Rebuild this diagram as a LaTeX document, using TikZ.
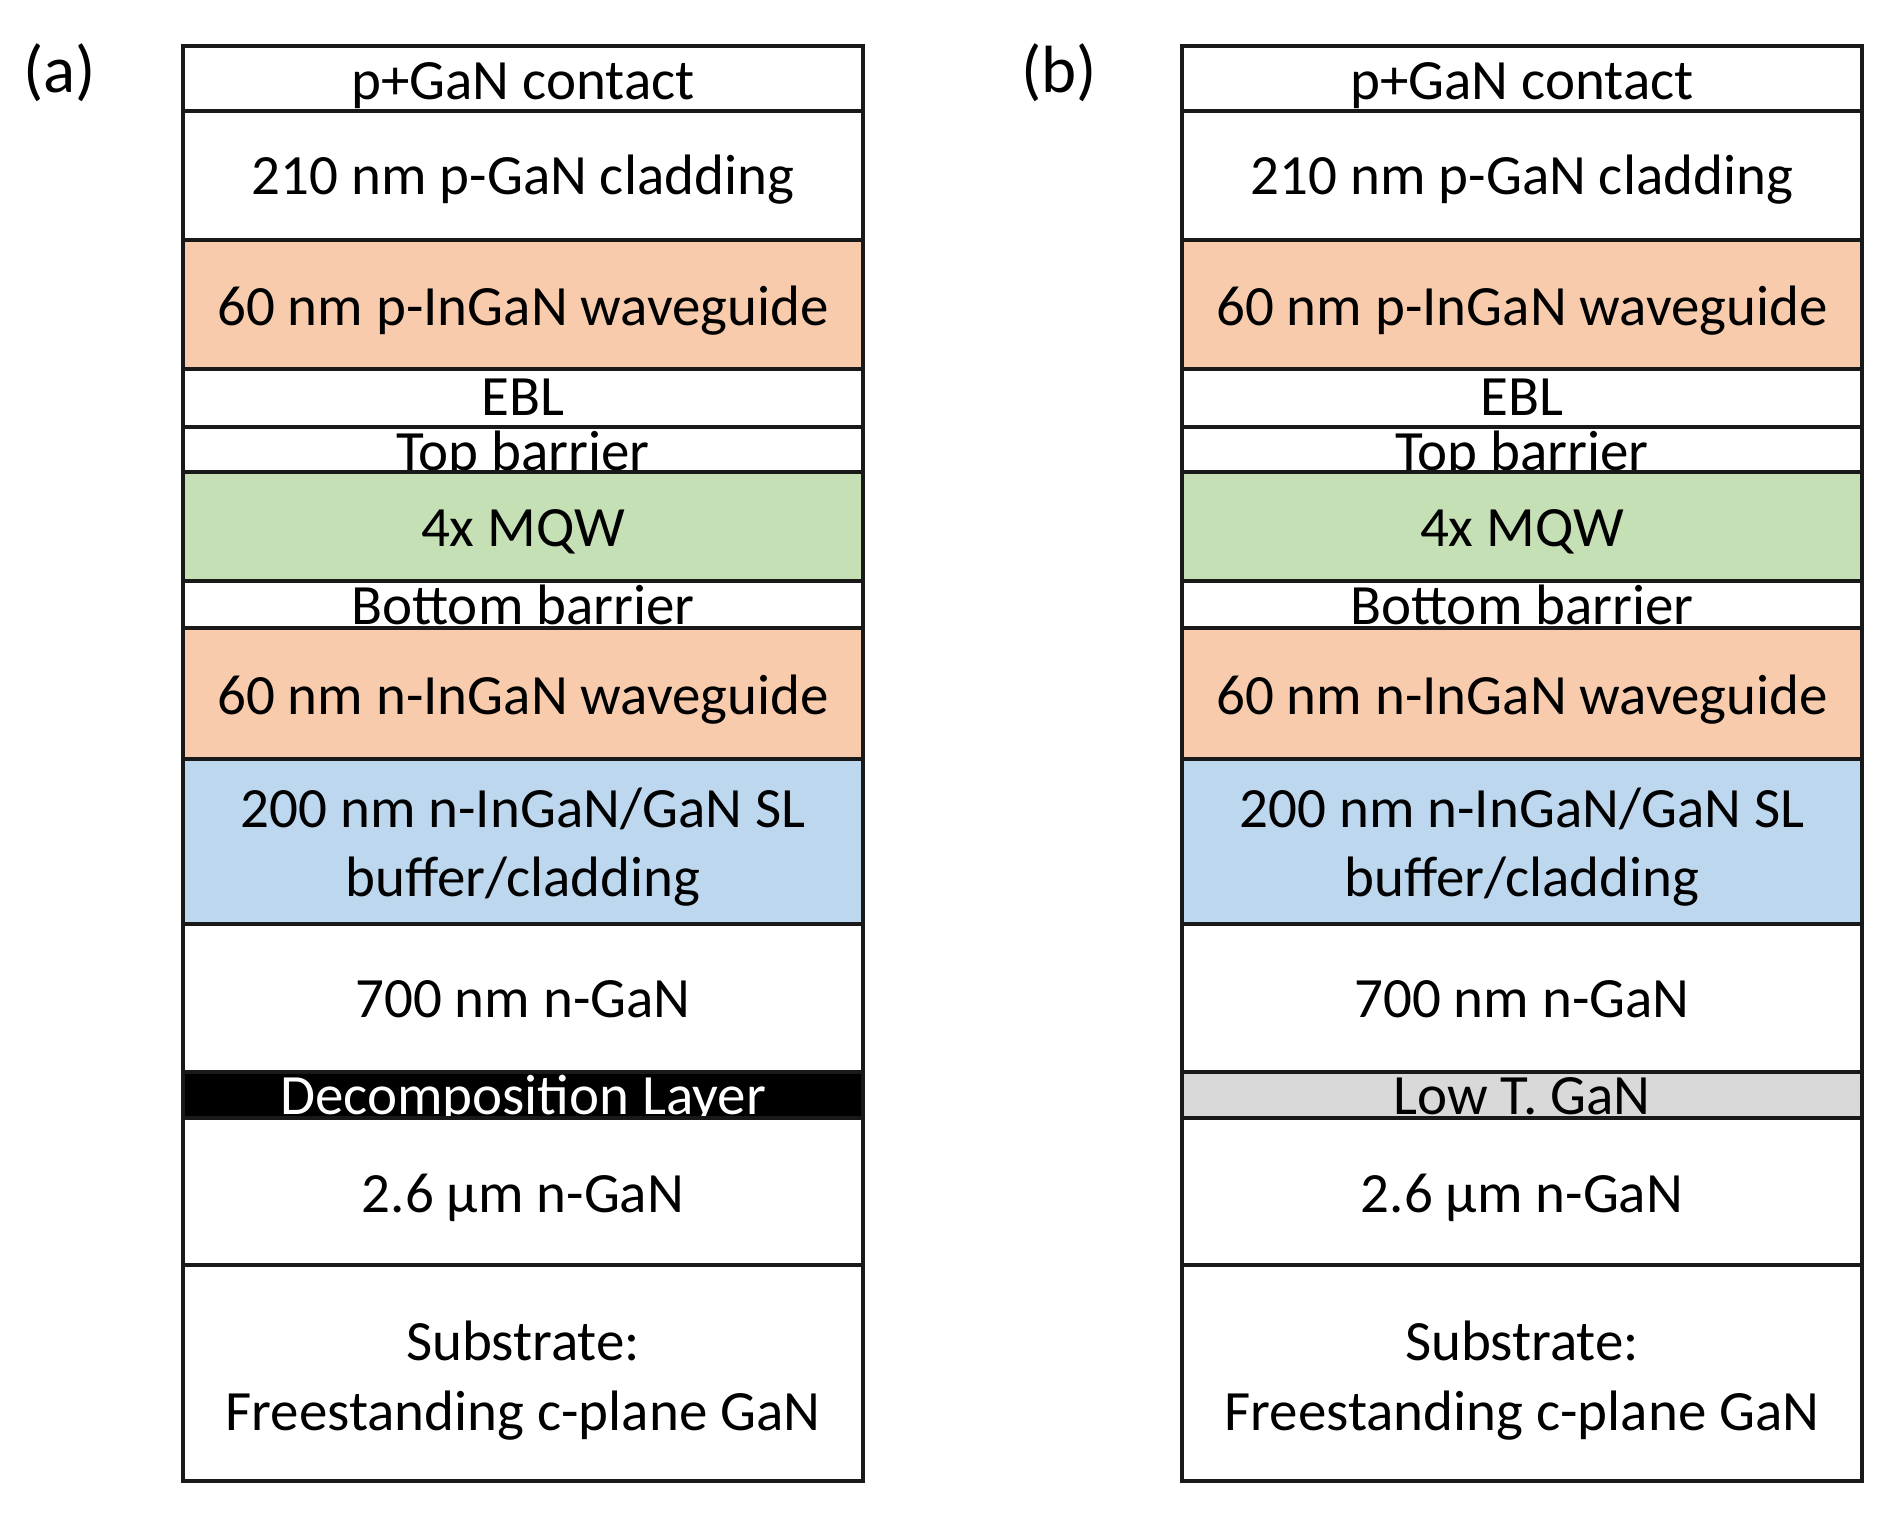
\documentclass[tikz,border=0pt]{standalone}
\usepackage{fontspec}
\setmainfont{Carlito}
\definecolor{wgorange}{HTML}{F8CBAD}
\definecolor{mqwgreen}{HTML}{C5E0B4}
\definecolor{slblue}{HTML}{BDD7EE}
\definecolor{lowtgray}{HTML}{D9D9D9}

\begin{document}
\begin{tikzpicture}[x=0.01cm, y=-0.01cm,
	edge/.style={draw=black!90, line width=1pt},
	lbl/.style={anchor=base, inner sep=0pt, font=\fontsize{16.2}{19.6}\selectfont},
	tagl/.style={anchor=base, inner sep=0pt, font=\fontsize{19}{22}\selectfont}]
	\useasboundingbox (0,0) rectangle (1899,1528);
	\foreach \s/\xo/\tag/\mfill/\mtext/\mcol in {a/0/(a)/black/Decomposition Layer/white, b/999/(b)/lowtgray/Low T. GaN/black}{
	\begin{scope}[shift={(\xo,0)}]
	\node[tagl] (\s-tag) at (60,93) {\tag};
	% layers, top to bottom
	\fill[white] (183,46) rectangle (863,111);
	\node[lbl] (\s-contact) at (523,100) {p+GaN contact};
	\fill[white] (183,111) rectangle (863,240);
	\node[lbl] (\s-pclad) at (523,195) {210 nm p-GaN cladding};
	\fill[wgorange] (183,240) rectangle (863,369);
	\node[lbl] (\s-pwg) at (523,326) {60 nm p-InGaN waveguide};
	\fill[white] (183,369) rectangle (863,427);
	\node[lbl] (\s-ebl) at (523,416) {EBL};
	\fill[white] (183,427) rectangle (863,472);
	\node[lbl] (\s-topb) at (523,471) {Top barrier};
	\fill[mqwgreen] (183,472) rectangle (863,581);
	\node[lbl] (\s-mqw) at (523,547) {4x MQW};
	\fill[white] (183,581) rectangle (863,628);
	\node[lbl] (\s-botb) at (523,625) {Bottom barrier};
	\fill[wgorange] (183,628) rectangle (863,759);
	\node[lbl] (\s-nwg) at (523,715) {60 nm n-InGaN waveguide};
	\fill[slblue] (183,759) rectangle (863,924);
	\node[lbl] (\s-sl1) at (523,828) {200 nm n-InGaN/GaN SL};
	\node[lbl] (\s-sl2) at (523,897) {buffer/cladding};
	\fill[white] (183,924) rectangle (863,1072);
	\node[lbl] (\s-ngan) at (523,1018) {700 nm n-GaN};
	\fill[\mfill] (183,1072) rectangle (863,1118);
	\node[lbl, text=\mcol] (\s-mid) at (523,1115) {\mtext};
	\fill[white] (183,1118) rectangle (863,1265);
	\node[lbl] (\s-thick) at (523,1212) {2.6 µm n-GaN};
	\fill[white] (183,1265) rectangle (863,1481);
	\node[lbl] (\s-sub1) at (523,1360) {Substrate:};
	\node[lbl] (\s-sub2) at (523,1430) {Freestanding c-plane GaN};
	% borders
	\draw[edge] (183,46) rectangle (863,1481);
	\foreach \yb in {111,240,369,427,472,581,628,759,924,1072,1118,1265}
		\draw[edge] (183,\yb) -- (863,\yb);
	\end{scope}
	}
\end{tikzpicture}
\end{document}
